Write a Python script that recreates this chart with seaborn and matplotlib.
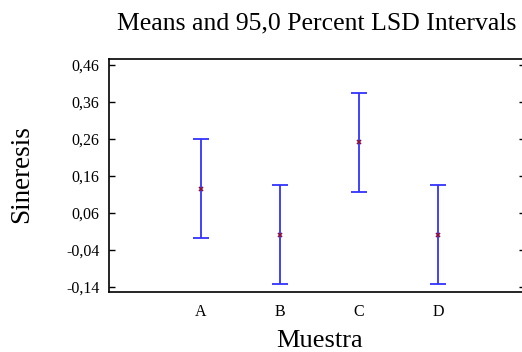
import matplotlib
matplotlib.use("Agg")
import matplotlib.pyplot as plt
import seaborn as sns
import pandas as pd
from matplotlib.ticker import FixedLocator, FixedFormatter

# Group means with their 95% LSD interval limits
muestra = ["A", "B", "C", "D"]
media = [0.125, 0.001, 0.250, 0.001]
limite_inf = [-0.009, -0.133, 0.117, -0.133]
limite_sup = [0.259, 0.135, 0.382, 0.135]

ytick_vals = [-0.14, -0.04, 0.06, 0.16, 0.26, 0.36, 0.46]
ytick_labels = ["-0,14", "-0,04", "0,06", "0,16", "0,26", "0,36", "0,46"]

df = pd.DataFrame({"Muestra": muestra, "Sineresis": media,
                   "inf": limite_inf, "sup": limite_sup})

sns.set_style("white")
plt.rcParams["font.family"] = ["Liberation Serif", "DejaVu Serif"]

W, H = 522, 352
fig = plt.figure(figsize=(W / 100, H / 100), dpi=100)
ax_l, ax_r, ax_t, ax_b = 109, 525, 59, 292
ax = fig.add_axes([ax_l / W, 1 - ax_b / H, (ax_r - ax_l) / W, (ax_b - ax_t) / H])

# Interval bars
pos = list(range(len(df)))
err = [[m - lo for m, lo in zip(df["Sineresis"], df["inf"])],
       [hi - m for m, hi in zip(df["Sineresis"], df["sup"])]]
ax.errorbar(pos, df["Sineresis"], yerr=err, fmt="none", ecolor="#3333ff",
            elinewidth=1.3, capsize=5.6, capthick=1.3, zorder=2)

# Mean markers
sns.pointplot(data=df, x="Muestra", y="Sineresis", order=muestra,
              linestyle="none", marker="x", markersize=3, markeredgewidth=1.2,
              color="#8b1040", errorbar=None, ax=ax, zorder=3)

ax.set_xlim(-1.165, 4.10)
ax.set_ylim(-0.154, 0.475)

ax.yaxis.set_major_locator(FixedLocator(ytick_vals))
ax.yaxis.set_major_formatter(FixedFormatter(ytick_labels))

for s in ax.spines.values():
    s.set_visible(True)
    s.set_color("black")
    s.set_linewidth(1.2)

ax.tick_params(axis="y", which="major", direction="in", length=4, width=1,
               left=True, right=True, labelleft=True, labelright=False,
               labelsize=11.5, pad=7, colors="black")
ax.tick_params(axis="x", which="major", bottom=False, top=False,
               labelsize=11.5, pad=5, colors="black")

pw, ph = ax_r - ax_l, ax_b - ax_t
ax.set_xlabel("Muestra", fontsize=19, color="black")
ax.xaxis.label.set_va("baseline")
ax.xaxis.set_label_coords((320 - ax_l) / pw, -(347 - ax_b) / ph)

ax.set_ylabel("Sineresis", fontsize=19.5, color="black")
ax.yaxis.label.set_va("center")
ax.yaxis.set_label_coords((22 - ax_l) / pw, (ax_b - 174) / ph)

fig.text(317 / W, 1 - 29 / H, "Means and 95,0 Percent LSD Intervals",
         ha="center", va="baseline", fontsize=18.5, color="black")

fig.savefig("out.png", dpi=100)
